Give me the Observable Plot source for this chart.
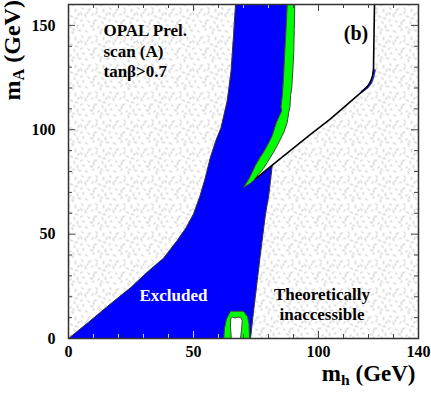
<!DOCTYPE html>
<html><head><meta charset="utf-8">
<script src="https://cdn.jsdelivr.net/npm/d3@7"></script>
<script src="https://cdn.jsdelivr.net/npm/@observablehq/plot@0.6"></script>
<style>body{margin:0;background:#fff} svg text, svg tspan{font-family:"Liberation Serif","Times New Roman",Tinos,"DejaVu Serif",serif !important;font-weight:bold}</style>
</head><body><div id="chart"></div>
<script>
// ---- data (m_h, m_A in GeV) ----
const leftEdge = [[0,0],[8,7.8],[17,16.8],[25,24.5],[31.5,31.8],[38,38.5],[43.5,47],[47,53],[50,59.7],[52.5,68],[54.5,76],[56.8,87],[59,95],[61,101],[63.5,114],[65,128],[66,145],[66.8,160]];
const greenOuter = [[87.5,160],[87,148],[86.5,137],[86,125],[85.5,116],[85,111],[85.3,109],[84.5,107],[83.2,103.6],[82.5,101],[81.5,97.2],[80,93.5],[78,89.2],[76.5,86.5],[75.5,84.4],[74.8,83],[73.5,79.7],[72.2,76.5],[70.1,72.5]];
const greenTip = [[72.5,74.2]];
const greenInner = [[74.8,76.5],[75.8,78.5],[76.8,79.7],[78,81.5],[79.5,84.4],[80.8,86.8],[82,89.2],[83.5,92.5],[85.5,97.2],[86.2,99],[87.5,103.6],[87.8,106],[88.1,108.4],[88.6,111],[88.8,116.4],[89.3,120],[89.8,130],[90.1,137],[90.3,148],[90.5,160]];
const allowedEdge = [[122.4,160],[122.2,145],[122.1,138],[122,129],[121.6,125.8],[120.8,123],[119.6,120.8],[118.1,119],[104.8,105.2],[96.8,97.8],[81.5,83],[74.8,76.5]];
const blueRight = [[81.5,83],[80.8,75.7],[80.1,68.5],[78.8,59.7],[77.1,43.7],[75.5,27.8],[73.9,11.8],[72.8,0],[0,0]];
const cornerSliver = [[117.3,118.3],[119.6,120.3],[121,122.5],[121.9,125.5],[122.5,128.5]];
const greenBlob = [[62.1,0],[62.4,5],[63.2,9.4],[64.8,13.1],[69.9,13.1],[71.6,10.5],[72.2,7],[72.4,0],[62.1,0]];
const whiteBlob = [[65.1,0],[64.8,6],[64.9,9.6],[65.6,10.2],[66.6,9.8],[67.5,10.2],[68.8,10.2],[69.5,8.6],[69.2,4],[68.8,0],[65.1,0]];

const xTicks = [10,20,30,40,50,60,70,80,90,100,110,120,130];
const yTicks = [10,20,30,40,50,60,70,80,90,100,110,120,130,140,150];
const xMajor = [50,100];
const yMajor = [50,100,150];
const xLightBottom = [10,20,30,40,50,60];
const xLightTop = [70,80];
const xTickLabels = [0,50,100,140];
const yTickLabels = [0,50,100,150];

// ---- polygons built from the arrays ----
const bluePoly = [...leftEdge, ...greenOuter, ...greenTip, [74.8,76.5], ...blueRight];
const greenPoly = [...greenOuter, ...greenTip, ...greenInner, greenOuter[0]];
const whitePoly = [...greenInner, ...allowedEdge];
const px = d => d[0], py = d => d[1];
const FONT = "Liberation Serif, Times New Roman, Tinos, DejaVu Serif, serif";
const dark = "#444", light = "#d0d0ff";
const T = {fontFamily: FONT, fontWeight: "bold"};

const chart = Plot.plot({
  width: 431, height: 394,
  marginLeft: 68, marginRight: 13, marginTop: 4, marginBottom: 56,
  x: {domain: [0, 140], axis: null},
  y: {domain: [0, 160], axis: null},
  style: {fontFamily: FONT, fontWeight: "bold", background: "white", overflow: "visible"},
  marks: [
    Plot.frame({fill: "url(#stipple)", stroke: null}),
    Plot.line(bluePoly, {x: px, y: py, fill: "#0000ff", stroke: "#333", strokeWidth: 1, curve: "linear"}),
    Plot.line(whitePoly, {x: px, y: py, fill: "white", stroke: null}),
    Plot.line(greenPoly, {x: px, y: py, fill: "#00ff00", stroke: "#444", strokeWidth: 1}),
    Plot.line(cornerSliver, {x: px, y: py, stroke: "#2a2ad0", strokeWidth: 2.2}),
    Plot.line(allowedEdge, {x: px, y: py, stroke: "#000", strokeWidth: 1.6}),
    Plot.line(greenBlob, {x: px, y: py, fill: "#00ff00", stroke: "#444", strokeWidth: 1}),
    Plot.line(whiteBlob, {x: px, y: py, fill: "white", stroke: "#444", strokeWidth: 1}),
    // ticks (inside)
    Plot.tickX(xTicks.filter(t => !xMajor.includes(t)), {x: d => d, insetTop: 330, stroke: d => xLightBottom.includes(d) ? light : dark}),
    Plot.tickX(xMajor, {x: d => d, insetTop: 327, stroke: d => xLightBottom.includes(d) ? light : dark}),
    Plot.tickX(xTicks.filter(t => !xMajor.includes(t)), {x: d => d, insetBottom: 330, stroke: d => xLightTop.includes(d) ? light : dark}),
    Plot.tickX(xMajor, {x: d => d, insetBottom: 327, stroke: dark}),
    Plot.tickY(yTicks.filter(t => !yMajor.includes(t)), {y: d => d, insetRight: 346, stroke: dark}),
    Plot.tickY(yMajor, {y: d => d, insetRight: 343, stroke: dark}),
    Plot.tickY(yTicks.filter(t => !yMajor.includes(t)), {y: d => d, insetLeft: 346, stroke: dark}),
    Plot.tickY(yMajor, {y: d => d, insetLeft: 343, stroke: dark}),
    Plot.frame({stroke: "#333", strokeWidth: 1.5}),
    // tick labels
    Plot.text(xTickLabels, {x: d => d, frameAnchor: "bottom", dy: 7, lineAnchor: "top", fontSize: 16, fill: "black", ...T}),
    Plot.text(yTickLabels, {y: d => d, frameAnchor: "left", dx: -13, textAnchor: "end", lineAnchor: "middle", fontSize: 16, fill: "black", ...T}),
    // axis titles
    Plot.text(["m_h (GeV)"], {frameAnchor: "bottom-right", dx: -3, dy: 42, textAnchor: "end", lineAnchor: "bottom", fontSize: 23, fill: "black", ...T}),
    Plot.text(["m_A (GeV)"], {frameAnchor: "left", dx: -49, dy: -71, rotate: -90, textAnchor: "start", lineAnchor: "bottom", fontSize: 24, fill: "black", ...T}),
    // annotations
    Plot.text(["OPAL Prel.\nscan (A)\ntanβ>0.7"], {x: () => 14, y: () => 151.9, textAnchor: "start", lineAnchor: "top", lineHeight: 1.21, fontSize: 17, fill: "black", ...T}),
    Plot.text(["(b)"], {x: () => 115, y: () => 150, textAnchor: "middle", lineAnchor: "top", fontSize: 20, fill: "black", ...T}),
    Plot.text(["Excluded"], {x: () => 42, y: () => 20.8, textAnchor: "middle", lineAnchor: "middle", fontSize: 17, fill: "white", ...T}),
    Plot.text(["Theoretically\ninaccessible"], {x: () => 101.4, y: () => 25.4, textAnchor: "middle", lineAnchor: "top", lineHeight: 1.18, fontSize: 17, fill: "black", ...T})
  ]
});

const svg = chart.tagName.toLowerCase() === "svg" ? chart : chart.querySelector("svg");
svg.setAttribute("font-family", FONT);
// stipple texture for the theoretically inaccessible region
const dashes = [[2,3,30],[9,1,-60],[16,4,80],[23,2,10],[5,9,-20],[12,8,50],[19,10,-80],[26,8,40],[1,15,70],[8,14,-40],[15,16,20],[22,14,-70],[4,21,45],[11,20,-10],[18,22,60],[25,20,-35],[7,26,15],[14,27,-55],[21,26,85],[27,25,25],[12,12,-75],[20,18,5],[3,12,-50],[25,13,65],[9,23,-85],[17,1,35]];
const defs = d3.select(svg).insert("defs", ":first-child");
const pat = defs.append("pattern").attr("id", "stipple").attr("patternUnits", "userSpaceOnUse").attr("width", 28).attr("height", 28);
pat.append("rect").attr("width", 28).attr("height", 28).attr("fill", "white");
for (const [x, y, a] of dashes) {
  const r = a * Math.PI / 180, l = 1.6;
  pat.append("line").attr("x1", x - l * Math.cos(r)).attr("y1", y - l * Math.sin(r)).attr("x2", x + l * Math.cos(r)).attr("y2", y + l * Math.sin(r)).attr("stroke", "#999").attr("stroke-width", 0.7);
}
// subscripts in axis titles
function sub(t, base, s, rest) {
  t.textContent = "";
  const ns = "http://www.w3.org/2000/svg";
  const a = document.createElementNS(ns, "tspan"); a.textContent = base; t.appendChild(a);
  const b = document.createElementNS(ns, "tspan"); b.textContent = s; b.setAttribute("font-size", "68%"); b.setAttribute("dy", "0.3em"); t.appendChild(b);
  const c = document.createElementNS(ns, "tspan"); c.textContent = rest; c.setAttribute("dy", "-0.2em"); t.appendChild(c);
}
for (const t of svg.querySelectorAll("text")) {
  if (t.textContent === "m_A (GeV)") sub(t, "m", "A", " (GeV)");
  else if (t.textContent === "m_h (GeV)") sub(t, "m", "h", " (GeV)");
}
document.getElementById("chart").appendChild(chart);
</script>
</body></html>
